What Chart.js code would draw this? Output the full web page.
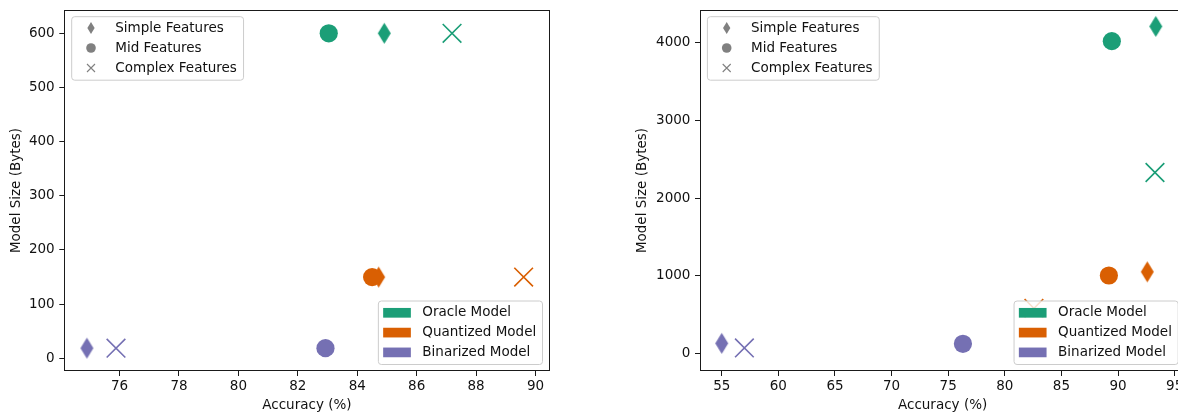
<!DOCTYPE html>
<html>
<head>
<meta charset="utf-8">
<script src="https://cdn.jsdelivr.net/npm/chart.js@4.4.1/dist/chart.umd.min.js"></script>
<style>
  html, body { margin: 0; padding: 0; background: #fff; overflow: hidden; }
  #wrap { position: relative; width: 1178px; height: 414px; overflow: hidden; background: #fff; }
  canvas { position: absolute; top: 0; }
  #sizeSmall { left: 0; }
  #sizeLarge { left: 626px; }
</style>
</head>
<body>
<div id="wrap">
  <canvas id="sizeSmall" width="590" height="414"></canvas>
  <canvas id="sizeLarge" width="600" height="414"></canvas>
</div>
<script>
// ---- data ----
const featureSets = ['Simple Features', 'Mid Features', 'Complex Features'];
const modelNames = ['Oracle Model', 'Quantized Model', 'Binarized Model'];
const modelColors = ['#1b9e77', '#d95f02', '#7570b3'];

// left panel: accuracy (%) and model size (bytes), one entry per feature set
const smallOracleAcc = [84.91, 83.04, 87.19];
const smallOracleSize = [600, 600, 600];
const smallQuantAcc = [84.72, 84.5, 89.6];
const smallQuantSize = [150, 150, 150];
const smallBinAcc = [74.9, 82.93, 75.88];
const smallBinSize = [18.75, 18.75, 18.75];
const smallXTicks = [76, 78, 80, 82, 84, 86, 88, 90];
const smallYTicks = [0, 100, 200, 300, 400, 500, 600];
const smallXRange = [74.14, 90.47];
const smallYRange = [-23.4, 643];

// right panel
const largeOracleAcc = [93.33, 89.45, 93.26];
const largeOracleSize = [4210, 4020, 2330];
const largeQuantAcc = [92.58, 89.19, 82.57];
const largeQuantSize = [1052, 1005, 582];
const largeBinAcc = [55.0, 76.3, 57.0];
const largeBinSize = [132, 126, 73];
const largeXTicks = [55, 60, 65, 70, 75, 80, 85, 90, 95];
const largeYTicks = [0, 1000, 2000, 3000, 4000];
const largeXRange = [53.08, 95.93];
const largeYRange = [-224, 4421];

// ---- styling helpers ----
const FONT_FAMILY = "'DejaVu Sans', sans-serif";
const FONT_SIZE = 13.5;
const TEXT_COLOR = '#111';
Chart.defaults.font.family = FONT_FAMILY;
Chart.defaults.font.size = FONT_SIZE;
Chart.defaults.color = TEXT_COLOR;

function thinDiamondPath(ctx, cx, cy, w, h) {
  ctx.beginPath();
  ctx.moveTo(cx, cy - h / 2);
  ctx.lineTo(cx + w / 2, cy);
  ctx.lineTo(cx, cy + h / 2);
  ctx.lineTo(cx - w / 2, cy);
  ctx.closePath();
}

function thinDiamondImage(color, w, h) {
  const c = document.createElement('canvas');
  c.width = Math.ceil(w) + 2;
  c.height = Math.ceil(h) + 2;
  const g = c.getContext('2d');
  g.fillStyle = color;
  thinDiamondPath(g, c.width / 2, c.height / 2, w, h);
  g.fill();
  return c;
}

function markerOptions(color) {
  return {
    pointStyle: [thinDiamondImage(color, 13, 21), 'circle', 'crossRot'],
    pointRadius: [10, 9.1, 13.2],
    pointBorderWidth: [0, 0, 1.6],
    pointBackgroundColor: color,
    pointBorderColor: color
  };
}

function makeDatasets(accs, sizes) {
  return modelNames.map((name, m) => ({
    label: name,
    data: featureSets.map((f, i) => ({ x: accs[m][i], y: sizes[m][i] })),
    ...markerOptions(modelColors[m])
  }));
}

function roundedBox(ctx, x, y, w, h, r) {
  ctx.beginPath();
  ctx.moveTo(x + r, y);
  ctx.lineTo(x + w - r, y);
  ctx.arcTo(x + w, y, x + w, y + r, r);
  ctx.lineTo(x + w, y + h - r);
  ctx.arcTo(x + w, y + h, x + w - r, y + h, r);
  ctx.lineTo(x + r, y + h);
  ctx.arcTo(x, y + h, x, y + h - r, r);
  ctx.lineTo(x, y + r);
  ctx.arcTo(x, y, x + r, y, r);
  ctx.closePath();
  ctx.fillStyle = 'rgba(255,255,255,0.8)';
  ctx.fill();
  ctx.strokeStyle = '#cccccc';
  ctx.lineWidth = 1;
  ctx.stroke();
}

function legendMarker(ctx, kind, cx, cy) {
  const gray = '#808080';
  ctx.fillStyle = gray;
  ctx.strokeStyle = gray;
  if (kind === 0) {
    thinDiamondPath(ctx, cx, cy, 7.3, 12);
    ctx.fill();
  } else if (kind === 1) {
    ctx.beginPath();
    ctx.arc(cx, cy, 4.8, 0, Math.PI * 2);
    ctx.fill();
  } else {
    ctx.lineWidth = 1.1;
    ctx.beginPath();
    ctx.moveTo(cx - 4, cy - 4); ctx.lineTo(cx + 4, cy + 4);
    ctx.moveTo(cx - 4, cy + 4); ctx.lineTo(cx + 4, cy - 4);
    ctx.stroke();
  }
}

// axes frame plus the two legends (marker shapes top-left, model colours bottom-right)
const frameAndLegends = {
  id: 'frameAndLegends',
  afterDraw(chart) {
    const ctx = chart.ctx;
    const a = chart.chartArea;
    ctx.save();
    ctx.strokeStyle = '#1a1a1a';
    ctx.lineWidth = 1;
    const l = Math.round(a.left) + 0.5, r = Math.round(a.right) - 0.5;
    const t = Math.round(a.top) + 0.5, b = Math.round(a.bottom) - 0.5;
    ctx.strokeRect(l, t, r - l, b - t);

    ctx.font = FONT_SIZE + 'px ' + FONT_FAMILY;
    ctx.textAlign = 'left';
    ctx.textBaseline = 'middle';
    const boxH = 63.5;

    const featW = Math.max(...featureSets.map(s => ctx.measureText(s).width));
    let bw = featW + 50.3;
    let bx = a.left + 7.4, by = a.top + 6.7;
    roundedBox(ctx, bx, by, bw, boxH, 3);
    featureSets.forEach((label, i) => {
      const cy = by + 11.3 + i * 20;
      legendMarker(ctx, i, bx + 19.3, cy);
      ctx.fillStyle = TEXT_COLOR;
      ctx.fillText(label, bx + 43.6, cy);
    });

    const modW = Math.max(...modelNames.map(s => ctx.measureText(s).width));
    bw = modW + 50.3;
    bx = a.right - 7 - bw;
    by = a.bottom - 6.5 - boxH;
    roundedBox(ctx, bx, by, bw, boxH, 3);
    modelNames.forEach((label, i) => {
      const cy = by + 11.8 + i * 19.8;
      ctx.fillStyle = modelColors[i];
      ctx.fillRect(bx + 4.8, cy - 4.85, 27.7, 9.7);
      ctx.fillStyle = TEXT_COLOR;
      ctx.fillText(label, bx + 44, cy);
    });
    ctx.restore();
  }
};

function makePanel(canvasId, datasets, xTicks, yTicks, xRange, yRange, yAxisWidth, padRight) {
  const tickList = list => list.map(v => ({ value: v }));
  return new Chart(document.getElementById(canvasId), {
    type: 'scatter',
    data: { datasets },
    options: {
      responsive: false,
      animation: false,
      events: [],
      layout: { autoPadding: false, padding: { top: 10, right: padRight, bottom: 0, left: 0 } },
      plugins: { legend: { display: false }, tooltip: { enabled: false } },
      scales: {
        x: {
          type: 'linear',
          min: xRange[0],
          max: xRange[1],
          afterBuildTicks: s => { s.ticks = tickList(xTicks); },
          afterFit: s => { s.height = 43; s.paddingLeft = 0; s.paddingRight = 0; },
          border: { display: false },
          grid: { drawOnChartArea: false, drawTicks: true, tickLength: 5, tickColor: '#1a1a1a', tickWidth: 1 },
          ticks: { padding: 2.4, color: TEXT_COLOR, autoSkip: false, maxRotation: 0, callback: v => String(v) },
          title: { display: true, text: 'Accuracy (%)', color: TEXT_COLOR, padding: { top: 0, bottom: 0.9 } }
        },
        y: {
          type: 'linear',
          min: yRange[0],
          max: yRange[1],
          afterBuildTicks: s => { s.ticks = tickList(yTicks); },
          afterFit: s => { s.width = yAxisWidth; s.paddingTop = 0; s.paddingBottom = 0; },
          border: { display: false },
          grid: { drawOnChartArea: false, drawTicks: true, tickLength: 5, tickColor: '#1a1a1a', tickWidth: 1 },
          ticks: { padding: 4.6, color: TEXT_COLOR, autoSkip: false, callback: v => String(v) },
          title: { display: true, text: 'Model Size (Bytes)', color: TEXT_COLOR, padding: { top: 8.6, bottom: 0 } }
        }
      }
    },
    plugins: [frameAndLegends]
  });
}

makePanel('sizeSmall',
  makeDatasets([smallOracleAcc, smallQuantAcc, smallBinAcc], [smallOracleSize, smallQuantSize, smallBinSize]),
  smallXTicks, smallYTicks, smallXRange, smallYRange, 64.3, 40.5);

makePanel('sizeLarge',
  makeDatasets([largeOracleAcc, largeQuantAcc, largeBinAcc], [largeOracleSize, largeQuantSize, largeBinSize]),
  largeXTicks, largeYTicks, largeXRange, largeYRange, 74, 40.8);
</script>
</body>
</html>
